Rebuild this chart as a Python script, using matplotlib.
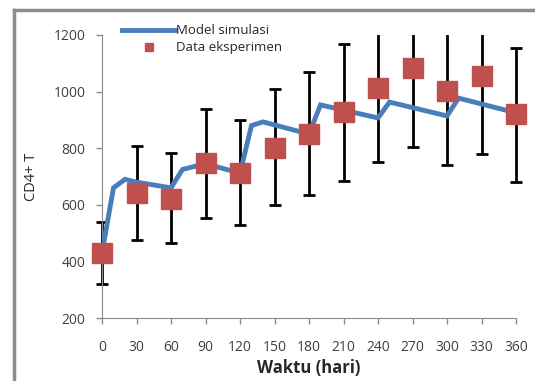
import matplotlib
matplotlib.use("Agg")
import matplotlib.pyplot as plt
from matplotlib.lines import Line2D
from matplotlib.patches import Rectangle

# model curve
model_x = [0, 10, 20, 30, 60, 70, 90, 120, 130, 140, 180, 190, 240, 250, 300, 310, 360]
model_y = [430, 660, 690, 680, 660, 725, 745, 712, 880, 893, 850, 953, 907, 963, 914, 977, 925]

# experiment data with error bars
data_x = [0, 30, 60, 90, 120, 150, 180, 210, 240, 270, 300, 330, 360]
data_y = [430, 641, 620, 746, 714, 800, 850, 928, 1013, 1083, 1002, 1055, 921]
err_hi = [539, 808, 783, 939, 900, 1009, 1069, 1168, 1300, 1300, 1300, 1300, 1154]
err_lo = [320, 476, 465, 553, 529, 599, 635, 684, 751, 804, 741, 780, 681]

xticks = list(range(0, 361, 30))
yticks = [200, 400, 600, 800, 1000, 1200]

plt.rcParams['font.family'] = ['Open Sans', 'DejaVu Sans']

fig = plt.figure(figsize=(5.35, 3.81), dpi=100)
ax = fig.add_axes([102 / 535, 63 / 381, 414 / 535, 283 / 381])

yerr = [[d - lo for d, lo in zip(data_y, err_lo)],
        [hi - d for d, hi in zip(data_y, err_hi)]]
eb = ax.errorbar(data_x, data_y, yerr=yerr, fmt='none', ecolor='black',
                 elinewidth=2, capsize=4, capthick=2, zorder=2)
# clip only at the top/bottom, not at the left/right edges
clip = Rectangle((-0.1, 0), 1.2, 1, transform=ax.transAxes, facecolor='none', edgecolor='none')
ax.add_patch(clip)
for art in list(eb.lines[1]) + list(eb.lines[2]):
    art.set_clip_path(clip)

ax.plot(model_x, model_y, color='#4a7ebb', lw=3.5, zorder=3,
        solid_joinstyle='miter', label='Model simulasi')
ax.plot(data_x, data_y, 's', color='#c0504d', ms=14, zorder=4,
        clip_on=False, label='Data eksperimen')

ax.set_xlim(0, 360)
ax.set_ylim(200, 1200)
ax.set_xticks(xticks)
ax.set_yticks(yticks)
ax.tick_params(axis='both', labelsize=10, length=4, width=1, direction='out')
ax.tick_params(axis='x', pad=12, colors='#8c8c8c', labelcolor='#404040')
ax.tick_params(axis='y', pad=8, colors='#8c8c8c', labelcolor='#404040')
for s in ['top', 'right']:
    ax.spines[s].set_visible(False)
for s in ['left', 'bottom']:
    ax.spines[s].set_color('#8c8c8c')

ax.set_xlabel('Waktu (hari)', fontsize=12, fontweight='bold', color='#262626', labelpad=3)
ax.set_ylabel('CD4+ T', fontsize=10.5, color='#262626', labelpad=10)

handles = [Line2D([], [], color='#4a7ebb', lw=3.5),
           Line2D([], [], marker='s', ls='none', color='#c0504d', ms=6)]
ax.legend(handles, ['Model simulasi', 'Data eksperimen'], loc='upper left',
          bbox_to_anchor=(0.02, 1.08), frameon=False, fontsize=9.5,
          handlelength=4.0, handletextpad=0.1, labelspacing=0.3,
          labelcolor='#262626')

# outer chart frame (left and top only visible)
fig.add_artist(Line2D([14 / 535, 14 / 535], [0, 1 - 10 / 381], color='#8c8c8c', lw=2.5))
fig.add_artist(Line2D([14 / 535, 1], [1 - 10 / 381, 1 - 10 / 381], color='#8c8c8c', lw=2.5))

fig.savefig('out.png', dpi=100)
